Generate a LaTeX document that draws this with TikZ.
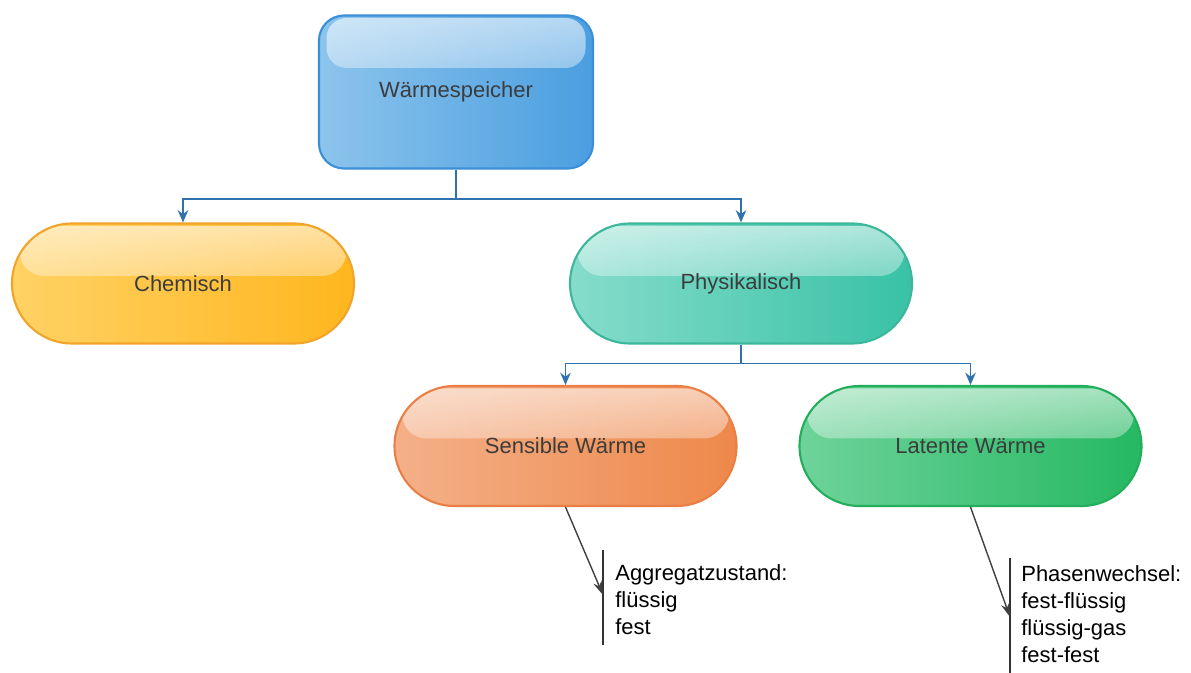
\documentclass[tikz,border=0pt]{standalone}
\usepackage{fontspec}
\setmainfont{Liberation Sans}
\usepackage{xcolor}
\usepackage{tikz}
\usetikzlibrary{arrows.meta,fadings}
\definecolor{BlueL}{HTML}{8CC4EC}
\definecolor{BlueR}{HTML}{4A9EE0}
\definecolor{BlueB}{HTML}{3A8FD8}
\definecolor{GoldL}{HTML}{FFD265}
\definecolor{GoldR}{HTML}{FFB61E}
\definecolor{GoldB}{HTML}{F2A42A}
\definecolor{TealL}{HTML}{86DCCB}
\definecolor{TealR}{HTML}{38C2A6}
\definecolor{TealB}{HTML}{3DB79C}
\definecolor{OrngL}{HTML}{F4B088}
\definecolor{OrngR}{HTML}{EE884A}
\definecolor{OrngB}{HTML}{EA7E44}
\definecolor{GrnL}{HTML}{6ED39A}
\definecolor{GrnR}{HTML}{25B862}
\definecolor{GrnB}{HTML}{22AE5B}
\definecolor{LinkC}{HTML}{2F72AC}
\definecolor{TxtC}{HTML}{3C3C3C}
\tikzset{
  gloss/.style={path picture={%
    \fill[white, opacity=0.6, path fading=south, rounded corners=#1]
      ([xshift=0.15cm,yshift=-0.05cm]path picture bounding box.north west) rectangle
      ([xshift=-0.15cm,yshift=-1.05cm]path picture bounding box.north east);}},
  box/.style={draw, line width=1.2pt, text=TxtC, font=\fontsize{12.5}{15}\selectfont},
  pill/.style={box, gloss=0.49cm, minimum width=6.84cm, minimum height=2.4cm, rounded corners=1.2cm},
  link/.style={LinkC, line width=0.8pt, -{Stealth[length=7pt,width=6pt]}},
  notearrow/.style={black!75, line width=0.8pt, -{Stealth[length=8pt,width=5pt]}},
  noteline/.style={black!80, line width=0.8pt},
  notetext/.style={align=left, inner sep=0pt, font=\fontsize{12.5}{15.4}\selectfont}
}
\begin{document}
\begin{tikzpicture}%
\useasboundingbox (0,0) rectangle (23.82,-13.46);%
% top box
\node[box, gloss=0.4cm, draw=BlueB, left color=BlueL, right color=BlueR, minimum width=5.48cm, minimum height=3.06cm, rounded corners=0.5cm] (ws) at (9.12,-1.84) {Wärmespeicher};%
% first level
\node[pill, draw=GoldB, left color=GoldL, right color=GoldR] (chem) at (3.66,-5.67) {Chemisch};%
\node[pill, draw=TealB, left color=TealL, right color=TealR] (phys) at (14.82,-5.67) {Physikalisch};%
% second level
\node[pill, draw=OrngB, left color=OrngL, right color=OrngR] (sens) at (11.31,-8.92) {Sensible Wärme};%
\node[pill, draw=GrnB, left color=GrnL, right color=GrnR] (lat) at (19.41,-8.92) {Latente Wärme};%
% connectors
\draw[link] (ws.south) -- ++(0,-0.59) -| (chem.north);%
\draw[link] (ws.south) -- ++(0,-0.59) -| (phys.north);%
\draw[link] (phys.south) -- ++(0,-0.38) -| (sens.north);%
\draw[link] (phys.south) -- ++(0,-0.38) -| (lat.north);%
% notes
\coordinate (aggtop) at (12.06,-11.0);%
\coordinate (aggbot) at (12.06,-12.9);%
\coordinate (aggtip) at (12.06,-11.9);%
\draw[noteline] (aggtop) -- (aggbot);%
\node[notetext, anchor=north west] (agg) at (12.3,-11.28) {Aggregatzustand:\\flüssig\\fest};%
\draw[notearrow] (sens.south) -- (aggtip);%
\coordinate (phatop) at (20.2,-11.16);%
\coordinate (phabot) at (20.2,-13.46);%
\coordinate (phatip) at (20.2,-12.34);%
\draw[noteline] (phatop) -- (phabot);%
\node[notetext, anchor=north west] (pha) at (20.42,-11.3) {Phasenwechsel:\\fest-flüssig\\flüssig-gas\\fest-fest};%
\draw[notearrow] (lat.south) -- (phatip);%
\end{tikzpicture}
\end{document}
